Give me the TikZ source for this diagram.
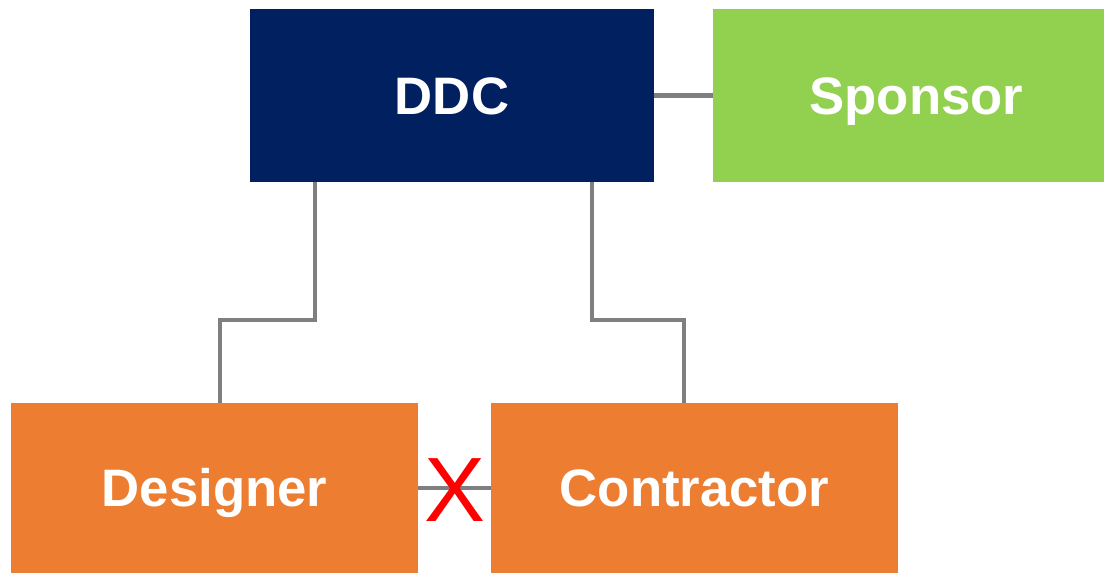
\documentclass[tikz,border=0pt]{standalone}
\usepackage{fontspec}
\setmainfont{Liberation Sans}
\usetikzlibrary{calc}
\definecolor{ddcblue}{HTML}{002060}
\definecolor{sponsorgreen}{HTML}{92D050}
\definecolor{partyorange}{HTML}{ED7D31}
\definecolor{linkgray}{HTML}{7F7F7F}
\begin{document}
\begin{tikzpicture}[
  box/.style={rectangle,inner sep=0pt,text=white,text height=21.5pt,text depth=0pt,
    font=\fontsize{30}{36}\selectfont\bfseries},
  link/.style={linkgray,line width=2.8pt}]
\useasboundingbox (0,0) rectangle (22.08,11.46);
%\draw[step=1cm,gray,very thin] (0,0) grid (22,11); %background grid

\node[box,fill=ddcblue,minimum width=8.08cm,minimum height=3.46cm] (ddc) at (9.04,9.55) {DDC};
\node[box,fill=sponsorgreen,minimum width=7.82cm,minimum height=3.46cm] (sponsor) at (18.17,9.55) {\hspace{0.32cm}Sponsor};
\node[box,fill=partyorange,minimum width=8.14cm,minimum height=3.4cm] (designer) at (4.29,1.7) {Designer};
\node[box,fill=partyorange,minimum width=8.14cm,minimum height=3.4cm] (contractor) at (13.89,1.7) {Contractor};

\draw[link] (ddc) -- (sponsor);
\draw[link] (ddc.south -| 6.3,0) |- (4.4,5.06) -- (designer.north -| 4.4,0);
\draw[link] (ddc.south -| 11.84,0) |- (13.68,5.06) -- (contractor.north -| 13.68,0);
\draw[link] (designer) -- (contractor);

\node[red,font=\fontsize{52}{60}\selectfont,yshift=-0.04cm] (cross) at ($(designer.east)!0.5!(contractor.west)$) {X};
\end{tikzpicture}
\end{document}
